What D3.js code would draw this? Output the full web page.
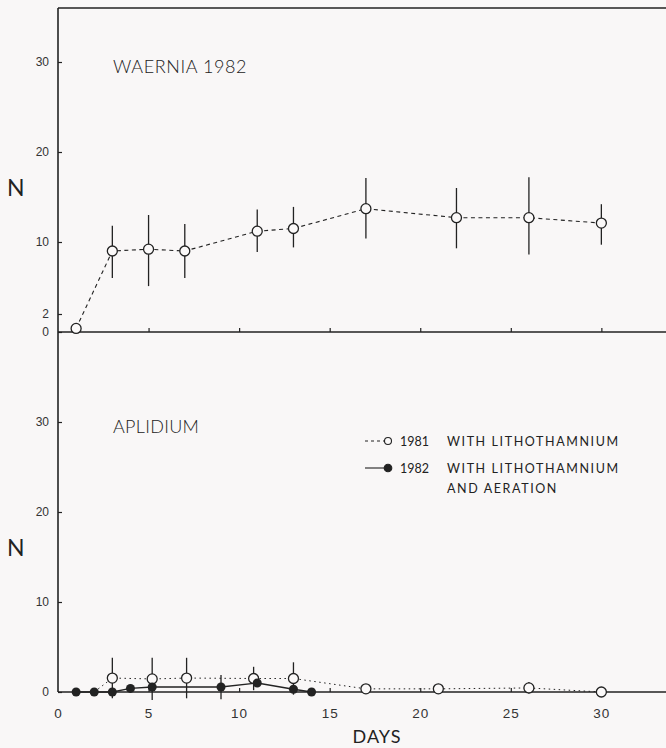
<!DOCTYPE html>
<html>
<head>
<meta charset="utf-8">
<script src="https://cdn.jsdelivr.net/npm/d3@7"></script>
<style>
  body { margin: 0; background: #f9f7f7; }
  svg { display: block; font-family: Lato, "DejaVu Sans", sans-serif; }
  .tick text { fill: #333; }
</style>
</head>
<body>
<svg id="chart"></svg>
<script>
// Waernia 1982 (top panel)
const waerniaDays = [1, 3, 5, 7, 11, 13, 17, 22, 26, 30];
const waerniaN = [0.4, 9.0, 9.2, 9.0, 11.2, 11.5, 13.7, 12.7, 12.7, 12.1];
const waerniaLow = [0.4, 6.0, 5.1, 6.0, 8.9, 9.4, 10.4, 9.3, 8.6, 9.7];
const waerniaHigh = [0.4, 11.8, 13.0, 12.0, 13.6, 13.9, 17.1, 16.0, 17.2, 14.2];

// Aplidium (bottom panel)
const days1981 = [2, 3, 5.2, 7.1, 10.8, 13, 17, 21, 26, 30];
const aplidium1981 = [0, 1.55, 1.45, 1.55, 1.5, 1.5, 0.35, 0.35, 0.45, 0];
const err1981 = [0, 2.25, 2.35, 2.25, 1.3, 1.8, 0.55, 0.55, 0.65, 0];

const days1982 = [1, 2, 3, 4, 5.2, 9, 11, 13, 14];
const aplidium1982 = [0, 0, 0, 0.4, 0.55, 0.55, 1.0, 0.3, 0];
const err1982 = [0, 0, 0, 0, 0, 1.35, 0, 0, 0];

const xTicks = [0, 5, 10, 15, 20, 25, 30];
const topYTicks = [0, 2, 10, 20, 30];
const bottomYTicks = [0, 10, 20, 30];

const legendRows = [
  { year: '1981', text: ['WITH LITHOTHAMNIUM'], filled: false },
  { year: '1982', text: ['WITH LITHOTHAMNIUM', 'AND AERATION'], filled: true }
];

const width = 666, height = 748;
const ink = '#222';

const svg = d3.select('#chart').attr('width', width).attr('height', height);

const x = d3.scaleLinear().domain([0, 33.9]).range([58, 672]);
const yTop = d3.scaleLinear().domain([0, 36]).range([332, 8]);
const yBot = d3.scaleLinear().domain([0, 40]).range([692, 332]);

// frame
const frame = svg.append('g').attr('stroke', ink).attr('stroke-width', 1.6);
frame.append('line').attr('x1', x(0)).attr('x2', x(0)).attr('y1', yTop(36)).attr('y2', yBot(0));
frame.append('line').attr('x1', x(0)).attr('x2', width).attr('y1', yTop(36)).attr('y2', yTop(36));
frame.append('line').attr('x1', x(0)).attr('x2', width).attr('y1', yTop(0)).attr('y2', yTop(0));
frame.append('line').attr('x1', x(0)).attr('x2', width).attr('y1', yBot(0)).attr('y2', yBot(0));

const styleAxis = g => {
  g.select('.domain').remove();
  g.selectAll('.tick line').attr('stroke', ink).attr('stroke-width', 1.2);
};

// top panel axes
svg.append('g')
  .attr('transform', `translate(0,${yTop(0)})`)
  .call(d3.axisBottom(x).tickValues(xTicks.slice(1)).tickSize(-4).tickFormat(''))
  .call(styleAxis);

svg.append('g')
  .attr('transform', `translate(${x(0)},0)`)
  .call(d3.axisLeft(yTop).tickValues(topYTicks).tickSize(-4).tickPadding(9))
  .call(styleAxis)
  .selectAll('text').attr('font-size', 12);

// bottom panel axes
svg.append('g')
  .attr('transform', `translate(0,${yBot(0)})`)
  .call(d3.axisBottom(x).tickValues(xTicks).tickSize(-4).tickPadding(16))
  .call(styleAxis)
  .call(g => g.selectAll('.tick').filter(d => d === 0).select('line').remove())
  .selectAll('text').attr('font-size', 13.5).attr('letter-spacing', 1);

svg.append('g')
  .attr('transform', `translate(${x(0)},0)`)
  .call(d3.axisLeft(yBot).tickValues(bottomYTicks).tickSize(-4).tickPadding(9))
  .call(styleAxis)
  .selectAll('text').attr('font-size', 12);

// axis titles
svg.append('text').attr('x', 7).attr('y', yTop(16) + 8).attr('font-size', 23).attr('fill', ink).text('N');
svg.append('text').attr('x', 7).attr('y', yBot(16) + 8).attr('font-size', 23).attr('fill', ink).text('N');
svg.append('text').attr('x', 377).attr('y', 743).attr('text-anchor', 'middle')
  .attr('font-size', 18).attr('letter-spacing', 1).attr('fill', ink).text('DAYS');

// panel titles
svg.append('text').attr('x', 113).attr('y', 73).attr('font-size', 18).attr('font-weight', 300)
  .attr('letter-spacing', 0.6).attr('fill', ink).text('WAERNIA 1982');
svg.append('text').attr('x', 113).attr('y', 433).attr('font-size', 18).attr('font-weight', 300)
  .attr('letter-spacing', 0.3).attr('fill', ink).text('APLIDIUM');

// top series
const topData = waerniaDays.map((d, i) => ({ d, n: waerniaN[i], lo: waerniaLow[i], hi: waerniaHigh[i] }));

svg.append('g').selectAll('line').data(topData.filter(p => p.hi > p.lo)).join('line')
  .attr('x1', p => x(p.d)).attr('x2', p => x(p.d))
  .attr('y1', p => yTop(p.lo)).attr('y2', p => yTop(p.hi))
  .attr('stroke', ink).attr('stroke-width', 1.3);

svg.append('path').datum(topData)
  .attr('d', d3.line().x(p => x(p.d)).y(p => yTop(p.n)))
  .attr('fill', 'none').attr('stroke', ink).attr('stroke-width', 1.1).attr('stroke-dasharray', '4,3.5');

svg.append('g').selectAll('circle').data(topData).join('circle')
  .attr('cx', p => x(p.d)).attr('cy', p => yTop(p.n)).attr('r', 5)
  .attr('fill', '#fbf9f9').attr('stroke', ink).attr('stroke-width', 1.3);

// bottom series
const data81 = days1981.map((d, i) => ({ d, n: aplidium1981[i], e: err1981[i] }));
const data82 = days1982.map((d, i) => ({ d, n: aplidium1982[i], e: err1982[i] }));

svg.append('g').selectAll('line').data(data81.concat(data82).filter(p => p.e > 0)).join('line')
  .attr('x1', p => x(p.d)).attr('x2', p => x(p.d))
  .attr('y1', p => yBot(p.n - p.e)).attr('y2', p => yBot(p.n + p.e))
  .attr('stroke', ink).attr('stroke-width', 1.3);

svg.append('path').datum(data81)
  .attr('d', d3.line().x(p => x(p.d)).y(p => yBot(p.n)))
  .attr('fill', 'none').attr('stroke', ink).attr('stroke-width', 1).attr('stroke-dasharray', '1.5,3.5');

svg.append('path').datum(data82)
  .attr('d', d3.line().x(p => x(p.d)).y(p => yBot(p.n)))
  .attr('fill', 'none').attr('stroke', ink).attr('stroke-width', 1.4);

svg.append('g').selectAll('circle').data(data81.filter(p => p.n > 0 || p.d > 20)).join('circle')
  .attr('cx', p => x(p.d)).attr('cy', p => yBot(p.n)).attr('r', 5)
  .attr('fill', '#fbf9f9').attr('stroke', ink).attr('stroke-width', 1.3);

svg.append('g').selectAll('circle').data(data82).join('circle')
  .attr('cx', p => x(p.d)).attr('cy', p => yBot(p.n)).attr('r', 4.5)
  .attr('fill', ink);

// legend
const legend = svg.append('g').attr('fill', ink).attr('font-size', 12.5);
legendRows.forEach((row, i) => {
  const cy = 441 + i * 27;
  legend.append('line').attr('x1', 365).attr('x2', 388).attr('y1', cy).attr('y2', cy)
    .attr('stroke', ink).attr('stroke-width', 1.1)
    .attr('stroke-dasharray', row.filled ? null : '3,3');
  legend.append('circle').attr('cx', 388).attr('cy', cy).attr('r', row.filled ? 3.8 : 3.5)
    .attr('fill', row.filled ? ink : '#fbf9f9').attr('stroke', ink).attr('stroke-width', 1.1);
  legend.append('text').attr('x', 400).attr('y', cy + 4.5).text(row.year);
  row.text.forEach((t, j) => {
    legend.append('text').attr('x', 447).attr('y', cy + 4.5 + j * 20)
      .attr('letter-spacing', 1.6).text(t);
  });
});
</script>
</body>
</html>
